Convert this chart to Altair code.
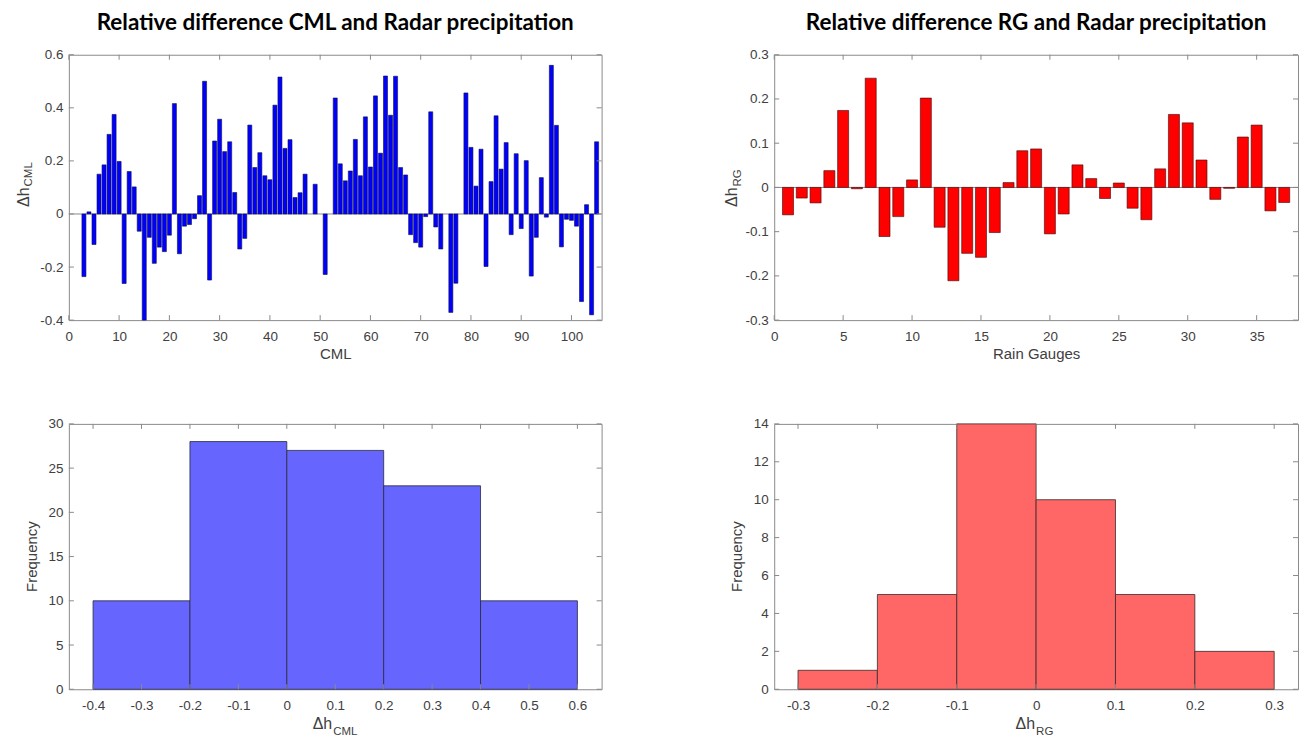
import altair as alt
import pandas as pd

# ---------------- data ----------------
cml_index = [3, 4, 5, 6, 7, 8, 9, 10, 11, 12, 13, 14, 15, 16, 17, 18, 19, 20,
             21, 22, 23, 24, 25, 26, 27, 28, 29, 30, 31, 32, 33, 34, 35, 36, 37,
             38, 39, 40, 41, 42, 43, 44, 45, 46, 47, 49, 51, 53, 54, 55, 56, 57,
             58, 59, 60, 61, 62, 63, 64, 65, 66, 67, 68, 69, 70, 71, 72, 73, 74,
             76, 77, 79, 80, 81, 82, 83, 84, 85, 86, 87, 88, 89, 90, 91, 92, 93,
             94, 95, 96, 97, 98, 99, 100, 101, 102, 103, 104, 105]
cml_value = [-0.236, 0.008, -0.115, 0.150, 0.185, 0.300, 0.375, 0.198, -0.262,
             0.160, 0.102, -0.065, -0.400, -0.088, -0.186, -0.125, -0.142, -0.080,
             0.416, -0.150, -0.046, -0.040, -0.018, 0.069, 0.500, -0.249, 0.275,
             0.357, 0.235, 0.272, 0.081, -0.132, -0.092, 0.335, 0.175, 0.231,
             0.144, 0.129, 0.410, 0.516, 0.247, 0.280, 0.062, 0.080, 0.150, 0.112,
             -0.228, 0.437, 0.189, 0.125, 0.162, 0.281, 0.144, 0.366, 0.177,
             0.445, 0.229, 0.520, 0.372, 0.519, 0.175, 0.147, -0.078, -0.108,
             -0.125, -0.010, 0.385, -0.049, -0.132, -0.371, -0.261, 0.456, 0.251,
             0.105, 0.244, -0.198, 0.122, 0.370, 0.169, 0.269, -0.078, 0.227,
             -0.055, 0.201, -0.234, -0.088, 0.137, -0.012, 0.560, 0.334, -0.124,
             -0.020, -0.024, -0.046, -0.330, 0.035, -0.380, 0.272]

rg_index = list(range(1, 38))
rg_value = [-0.062, -0.024, -0.035, 0.038, 0.174, -0.003, 0.247, -0.111, -0.066,
            0.017, 0.202, -0.090, -0.211, -0.149, -0.158, -0.102, 0.011, 0.083,
            0.087, -0.105, -0.060, 0.051, 0.020, -0.025, 0.010, -0.047, -0.073,
            0.042, 0.165, 0.146, 0.062, -0.027, -0.002, 0.114, 0.141, -0.053,
            -0.034]

cml_bin_lo = [-0.4, -0.2, 0.0, 0.2, 0.4]
cml_bin_hi = [-0.2, 0.0, 0.2, 0.4, 0.6]
cml_counts = [10, 28, 27, 23, 10]

rg_bin_lo = [-0.3, -0.2, -0.1, 0.0, 0.1, 0.2]
rg_bin_hi = [-0.2, -0.1, 0.0, 0.1, 0.2, 0.3]
rg_counts = [1, 5, 14, 10, 5, 2]

cml_xticks = [0, 10, 20, 30, 40, 50, 60, 70, 80, 90, 100]
cml_yticks = [-0.4, -0.2, 0, 0.2, 0.4, 0.6]
rg_xticks = [0, 5, 10, 15, 20, 25, 30, 35]
rg_yticks = [-0.3, -0.2, -0.1, 0, 0.1, 0.2, 0.3]
h1_xticks = [-0.4, -0.3, -0.2, -0.1, 0, 0.1, 0.2, 0.3, 0.4, 0.5, 0.6]
h1_yticks = [0, 5, 10, 15, 20, 25, 30]
h2_xticks = [-0.3, -0.2, -0.1, 0, 0.1, 0.2, 0.3]
h2_yticks = [0, 2, 4, 6, 8, 10, 12, 14]

title_left = "Relative difference CML and Radar precipitation"
title_right = "Relative difference RG and Radar precipitation"

# ---------------- styling ----------------
FONT = "Liberation Sans"
TFONT = "Lato"
FRAME = "#8a8a8a"
LABEL = "#404040"
TL = 5
WL, WR, H = 534, 525, 266
LBL = "datum.value < 0 ? '-' + format(-datum.value, '~g') : format(datum.value, '~g')"
one = pd.DataFrame({"z": [0]})


def xaxis(values, title=None):
    kw = dict(values=values, ticks=False, domain=False, grid=False,
              labelFont=FONT, labelFontSize=13.5, labelColor=LABEL,
              labelPadding=9, labelExpr=LBL, labelFlush=False,
              labelOverlap=False, titleFont=FONT, titleFontSize=15,
              titleFontWeight="normal", titleColor=LABEL, titlePadding=4)
    return alt.Axis(title=title, **kw)


def yaxis(values):
    return alt.Axis(values=values, ticks=False, domain=False, grid=False,
                    labelFont=FONT, labelFontSize=13.5, labelColor=LABEL,
                    labelPadding=6, labelExpr=LBL, labelFlush=False,
                    labelOverlap=False, minExtent=60, maxExtent=60, title=None)


def ticks(xt, yt, xs, ys, xa, ya, W):
    dx = pd.DataFrame({"t": xt})
    dy = pd.DataFrame({"t": yt})
    r = dict(color=FRAME, strokeWidth=1)
    return [
        alt.Chart(dx).mark_rule(**r).encode(
            x=alt.X("t:Q", scale=xs, axis=xa), y=alt.value(H), y2=alt.value(H - TL)),
        alt.Chart(dx).mark_rule(**r).encode(
            x=alt.X("t:Q", scale=xs, axis=xa), y=alt.value(0), y2=alt.value(TL)),
        alt.Chart(dy).mark_rule(**r).encode(
            y=alt.Y("t:Q", scale=ys, axis=ya), x=alt.value(0), x2=alt.value(TL)),
        alt.Chart(dy).mark_rule(**r).encode(
            y=alt.Y("t:Q", scale=ys, axis=ya), x=alt.value(W), x2=alt.value(W - TL)),
    ]


def txt(s, x, y, size, align, angle=0):
    kw = dict(text=s, font=FONT, fontSize=size, align=align,
              baseline="alphabetic", color=LABEL)
    if angle:
        kw["angle"] = angle
    return alt.Chart(one).mark_text(**kw).encode(x=alt.value(x), y=alt.value(y))


def ylabel_sub(main, sub, xb):
    return [txt(main, xb, 133, 16, "right", 270),
            txt(sub, xb + 3.5, 132, 11.5, "left", 270)]


def xlabel_sub(main, sub, W, dx):
    return [txt(main, W / 2 + dx - 1, H + 40, 16, "right"),
            txt(sub, W / 2 + dx, H + 45.5, 11.5, "left")]


def ttl(s):
    return alt.TitleParams(text=s, font=TFONT, fontSize=22.5, fontWeight="bold",
                           color="black", offset=13, anchor="middle", frame="group")


# ---------------- panel 1: CML bars ----------------
xs1 = alt.Scale(domain=[0, 106], nice=False, zero=False)
ys1 = alt.Scale(domain=[-0.4, 0.6], nice=False, zero=False)
xa1 = xaxis(cml_xticks, "CML")
ya1 = yaxis(cml_yticks)
df1 = pd.DataFrame({"i": cml_index, "v": cml_value})
zero1 = alt.Chart(one).mark_rule(color=FRAME, strokeWidth=1).encode(
    y=alt.Y("z:Q", scale=ys1, axis=ya1))
bars1 = alt.Chart(df1).transform_calculate(
    x0="datum.i - 0.4", x1="datum.i + 0.4", z="0"
).mark_bar(fill="#0000ff", stroke="#10104a", strokeWidth=0.6).encode(
    x=alt.X("x0:Q", scale=xs1, axis=xa1),
    x2="x1:Q",
    y=alt.Y("v:Q", scale=ys1, axis=ya1),
    y2="z:Q",
)
p1 = alt.layer(zero1, bars1, *ticks(cml_xticks, cml_yticks, xs1, ys1, xa1, ya1, WL),
               *ylabel_sub("Δh", "CML", -40)).properties(
    width=WL, height=H, title=ttl(title_left))

# ---------------- panel 2: RG bars ----------------
xs2 = alt.Scale(domain=[0, 38], nice=False, zero=False)
ys2 = alt.Scale(domain=[-0.3, 0.3], nice=False, zero=False)
xa2 = xaxis(rg_xticks, "Rain Gauges")
ya2 = yaxis(rg_yticks)
df2 = pd.DataFrame({"i": rg_index, "v": rg_value})
zero2 = alt.Chart(one).mark_rule(color=FRAME, strokeWidth=1).encode(
    y=alt.Y("z:Q", scale=ys2, axis=ya2))
bars2 = alt.Chart(df2).transform_calculate(
    x0="datum.i - 0.4", x1="datum.i + 0.4", z="0"
).mark_bar(fill="#ff0000", stroke="#3a0a0a", strokeWidth=0.6).encode(
    x=alt.X("x0:Q", scale=xs2, axis=xa2),
    x2="x1:Q",
    y=alt.Y("v:Q", scale=ys2, axis=ya2),
    y2="z:Q",
)
p2 = alt.layer(zero2, bars2, *ticks(rg_xticks, rg_yticks, xs2, ys2, xa2, ya2, WR),
               *ylabel_sub("Δh", "RG", -37)).properties(
    width=WR, height=H, title=ttl(title_right))

# ---------------- panel 3: CML histogram ----------------
xs3 = alt.Scale(domain=[-0.45, 0.65], nice=False, zero=False)
ys3 = alt.Scale(domain=[0, 30], nice=False, zero=False)
xa3 = xaxis(h1_xticks)
ya3 = yaxis(h1_yticks)
df3 = pd.DataFrame({"lo": cml_bin_lo, "hi": cml_bin_hi, "n": cml_counts})
hist1 = alt.Chart(df3).transform_calculate(z="0").mark_bar(
    fill="#6666ff", stroke="#2a2a3a", strokeWidth=0.8).encode(
    x=alt.X("lo:Q", scale=xs3, axis=xa3),
    x2="hi:Q",
    y=alt.Y("n:Q", scale=ys3, axis=ya3),
    y2="z:Q",
)
p3 = alt.layer(hist1, *ticks(h1_xticks, h1_yticks, xs3, ys3, xa3, ya3, WL),
               txt("Frequency", -32, H / 2, 15, "center", 270),
               *xlabel_sub("Δh", "CML", WL, -2)).properties(width=WL, height=H)

# ---------------- panel 4: RG histogram ----------------
xs4 = alt.Scale(domain=[-0.33, 0.33], nice=False, zero=False)
ys4 = alt.Scale(domain=[0, 14], nice=False, zero=False)
xa4 = xaxis(h2_xticks)
ya4 = yaxis(h2_yticks)
df4 = pd.DataFrame({"lo": rg_bin_lo, "hi": rg_bin_hi, "n": rg_counts})
hist2 = alt.Chart(df4).transform_calculate(z="0").mark_bar(
    fill="#ff6666", stroke="#3a2a2a", strokeWidth=0.8).encode(
    x=alt.X("lo:Q", scale=xs4, axis=xa4),
    x2="hi:Q",
    y=alt.Y("n:Q", scale=ys4, axis=ya4),
    y2="z:Q",
)
p4 = alt.layer(hist2, *ticks(h2_xticks, h2_yticks, xs4, ys4, xa4, ya4, WR),
               txt("Frequency", -32, H / 2, 15, "center", 270),
               *xlabel_sub("Δh", "RG", WR, 0)).properties(width=WR, height=H)

row1 = alt.hconcat(p1, p2, spacing=111)
row2 = alt.hconcat(p3, p4, spacing=111)
chart = alt.vconcat(row1, row2, spacing=54).properties(
    padding={"left": 0, "top": 3, "right": 0, "bottom": 0}
).configure_view(stroke=FRAME, strokeWidth=1)

chart.save("out.html", embed_options={"renderer": "svg", "actions": False})
